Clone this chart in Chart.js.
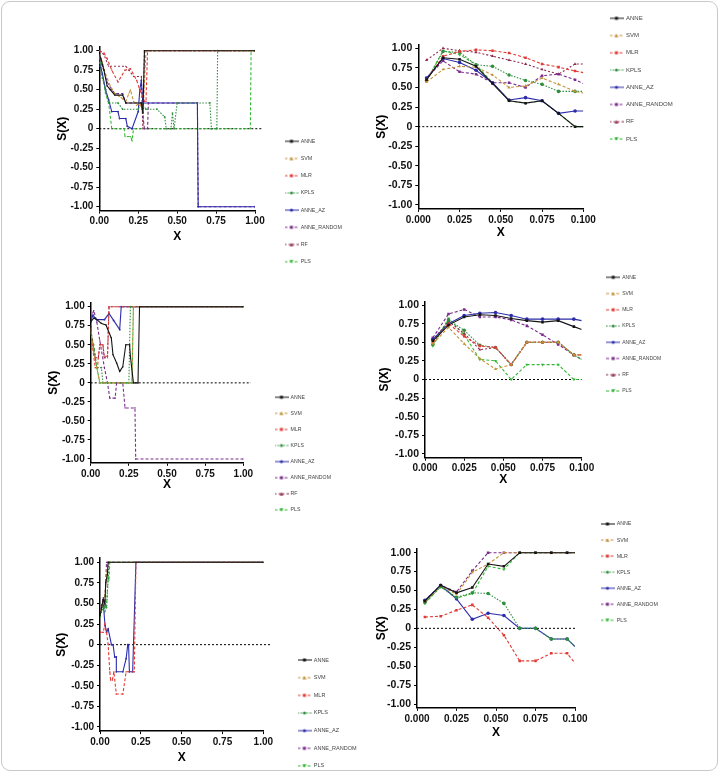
<!DOCTYPE html>
<html><head><meta charset="utf-8">
<script src="https://cdn.jsdelivr.net/npm/chart.js@4.4.1/dist/chart.umd.min.js"></script>
<style>
html,body{margin:0;padding:0;background:#fff;}
#wrap{position:relative;width:720px;height:773px;overflow:hidden;background:#fff;}
#frame{position:absolute;left:1px;top:1px;width:717px;height:770px;border:1px solid #c9c9c9;border-radius:9px;box-sizing:border-box;}
canvas{position:absolute;}
</style></head><body><div id="wrap"><div id="frame"></div></div>
<script>
// ---------- axis ticks ----------
const LEFT_X_TICKS = [0, 0.25, 0.5, 0.75, 1];
const LEFT_X_LABELS = ['0.00', '0.25', '0.50', '0.75', '1.00'];
const RIGHT_X_TICKS = [0, 0.025, 0.05, 0.075, 0.1];
const RIGHT_X_LABELS = ['0.000', '0.025', '0.050', '0.075', '0.100'];
const Y_TICKS = [-1, -0.75, -0.5, -0.25, 0, 0.25, 0.5, 0.75, 1];
const Y_LABELS = ['-1.00', '-0.75', '-0.50', '-0.25', '0', '0.25', '0.50', '0.75', '1.00'];

// ---------- right panels: x positions ----------
const X_RIGHT = [0.005, 0.015, 0.025, 0.035, 0.045, 0.055, 0.065, 0.075, 0.085, 0.095, 0.1];

// top-right
const TR_ANNE = [0.60, 0.88, 0.86, 0.77, 0.55, 0.33, 0.30, 0.33, 0.17, 0.00, 0.00];
const TR_SVM = [0.57, 0.73, 0.77, 0.76, 0.66, 0.50, 0.52, 0.62, 0.54, 0.45, 0.43];
const TR_MLR = [0.60, 0.90, 0.96, 0.98, 0.97, 0.94, 0.88, 0.80, 0.76, 0.71, 0.69];
const TR_KPLS = [0.59, 0.96, 0.95, 0.79, 0.77, 0.66, 0.59, 0.54, 0.45, 0.45, 0.45];
const TR_ANNE_AZ = [0.62, 0.87, 0.82, 0.72, 0.56, 0.34, 0.37, 0.33, 0.17, 0.20, 0.20];
const TR_ANNE_RANDOM = [0.62, 0.84, 0.70, 0.67, 0.56, 0.56, 0.50, 0.65, 0.67, 0.60, 0.55];
const TR_RF = [0.85, 1.00, 0.97, 0.95, 0.90, 0.85, 0.80, 0.73, 0.67, 0.80, 0.80];
const TR_PLS = [0.58, 0.97, 0.92, 0.79, 0.56, 0.33, 0.30, 0.33, 0.17, 0.00, 0.00];

// middle-right
const MR_ANNE = [0.52, 0.73, 0.84, 0.87, 0.86, 0.82, 0.79, 0.77, 0.79, 0.71, 0.67];
const MR_SVM = [0.48, 0.70, 0.48, 0.28, 0.14, 0.20, 0.50, 0.50, 0.50, 0.33, 0.33];
const MR_MLR = [0.50, 0.75, 0.58, 0.45, 0.43, 0.20, 0.50, 0.50, 0.50, 0.33, 0.33];
const MR_KPLS = [0.47, 0.80, 0.66, 0.46, 0.43, 0.20, 0.50, 0.50, 0.50, 0.33, 0.27];
const MR_ANNE_AZ = [0.54, 0.75, 0.86, 0.89, 0.90, 0.86, 0.81, 0.81, 0.81, 0.81, 0.79];
const MR_ANNE_RANDOM = [0.56, 0.88, 0.94, 0.84, 0.84, 0.80, 0.72, 0.60, 0.47, 0.33, 0.27];
const MR_RF = [0.53, 0.78, 0.62, 0.40, 0.43, 0.20, 0.50, 0.50, 0.50, 0.33, 0.33];
const MR_PLS = [0.45, 0.82, 0.60, 0.27, 0.25, 0.00, 0.20, 0.20, 0.20, 0.00, 0.00];

// bottom-right
const BR_ANNE = [0.36, 0.57, 0.47, 0.54, 0.85, 0.82, 1, 1, 1, 1, 1];
const BR_SVM = [0.35, 0.56, 0.45, 0.74, 0.85, 1, 1, 1, 1, 1, 1];
const BR_MLR = [0.15, 0.16, 0.24, 0.31, 0.14, -0.09, -0.43, -0.43, -0.33, -0.33, -0.46];
const BR_KPLS = [0.34, 0.55, 0.41, 0.47, 0.46, 0.33, 0.00, 0.00, -0.14, -0.14, -0.24];
const BR_ANNE_AZ = [0.37, 0.57, 0.39, 0.12, 0.20, 0.17, 0.00, 0.00, -0.14, -0.14, -0.24];
const BR_ANNE_RANDOM = [0.37, 0.57, 0.48, 0.76, 1, 1, 1, 1, 1, 1, 1];
const BR_PLS = [0.33, 0.55, 0.40, 0.46, 0.82, 0.78, 1, 1, 1, 1, 1];

// ---------- left panels: [x, S(X)] pairs ----------
// top-left
const TL_ANNE = [[0,0.95],[0.01,0.9],[0.03,0.75],[0.05,0.55],[0.07,0.5],[0.1,0.43],[0.15,0.43],[0.17,0.33],[0.27,0.33],[0.28,0.2],[0.29,1],[1,1]];
const TL_SVM = [[0,0.95],[0.02,0.85],[0.04,0.7],[0.07,0.55],[0.1,0.45],[0.14,0.4],[0.17,0.35],[0.19,0.45],[0.2,0.5],[0.22,0.35],[0.24,0.3],[0.26,0.33],[0.28,0.2],[0.3,1],[1,1]];
const TL_MLR = [[0,1],[0.03,0.97],[0.05,0.9],[0.08,0.75],[0.12,0.6],[0.165,0.75],[0.2,0.77],[0.24,0.62],[0.26,0.5],[0.29,0.35],[0.3,0.35],[0.31,1],[1,1]];
const TL_KPLS = [[0,0.85],[0.02,0.65],[0.04,0.5],[0.06,0.33],[0.12,0.33],[0.15,0.25],[0.25,0.25],[0.27,0.33],[0.3,0.25],[0.37,0.25],[0.42,0.15],[0.43,0],[0.46,0],[0.47,0.2],[0.48,0],[0.5,0.33],[0.71,0.33],[0.72,0],[0.755,0],[0.76,1],[1,1]];
const TL_ANNE_AZ = [[0,0.85],[0.02,0.7],[0.04,0.5],[0.06,0.37],[0.08,0.22],[0.12,0.22],[0.13,0.13],[0.17,0.13],[0.18,0.03],[0.21,0],[0.25,0.22],[0.26,0.5],[0.27,0.62],[0.28,0.33],[0.63,0.33],[0.635,-1],[1,-1]];
const TL_ANNE_RANDOM = [[0,0.9],[0.02,0.8],[0.05,0.6],[0.08,0.5],[0.1,0.45],[0.15,0.45],[0.17,0.33],[0.27,0.33],[0.29,0],[0.31,0],[0.315,0.33],[0.63,0.33],[0.635,-1],[1,-1]];
const TL_RF = [[0,1],[0.03,0.95],[0.06,0.8],[0.17,0.8],[0.19,0.75],[0.22,0.67],[0.27,0.67],[0.28,0],[0.29,1],[1,1]];
const TL_PLS = [[0,0.92],[0.02,0.7],[0.04,0.45],[0.06,0.33],[0.08,0],[0.16,0],[0.165,-0.1],[0.2,-0.1],[0.21,-0.15],[0.22,0],[0.97,0],[0.975,1],[1,1]];

// middle-left
const ML_ANNE = [[0,0.8],[0.02,0.85],[0.04,0.83],[0.07,0.78],[0.1,0.76],[0.135,0.59],[0.146,0.37],[0.17,0.26],[0.19,0.15],[0.21,0.21],[0.23,0.5],[0.255,0.5],[0.26,0.35],[0.28,0],[0.31,0],[0.32,1],[1,1]];
const ML_SVM = [[0,0.68],[0.02,0.4],[0.04,0.2],[0.06,0],[0.27,0],[0.28,1],[1,1]];
const ML_MLR = [[0,0.72],[0.01,0.5],[0.03,0.2],[0.045,0.2],[0.05,0.33],[0.06,0.5],[0.08,0.5],[0.087,0.35],[0.11,0.35],[0.12,1],[1,1]];
const ML_KPLS = [[0,0.7],[0.02,0.45],[0.04,0.2],[0.07,0.2],[0.08,0],[0.25,0],[0.26,1],[1,1]];
const ML_ANNE_AZ = [[0,0.8],[0.015,0.89],[0.03,0.85],[0.04,0.83],[0.09,0.83],[0.12,0.91],[0.15,0.82],[0.19,0.7],[0.2,1],[1,1]];
const ML_ANNE_RANDOM = [[0,0.85],[0.02,0.95],[0.04,0.8],[0.06,0.55],[0.09,0.2],[0.11,0],[0.125,-0.2],[0.16,-0.2],[0.17,0],[0.21,0],[0.225,-0.33],[0.29,-0.33],[0.295,-1],[1,-1]];
const ML_RF = [[0,0.75],[0.01,0.55],[0.03,0.33],[0.05,0.33],[0.06,0.5],[0.08,0.5],[0.09,0.33],[0.11,0.33],[0.12,1],[1,1]];
const ML_PLS = [[0,0.65],[0.02,0.5],[0.04,0.2],[0.06,0],[0.27,0],[0.28,1],[1,1]];

// bottom-left
const BL_ANNE = [[0,0.35],[0.01,0.45],[0.02,0.55],[0.03,0.5],[0.035,0.75],[0.045,0.85],[0.05,1],[1,1]];
const BL_SVM = [[0,0.4],[0.02,0.5],[0.03,0.6],[0.04,0.85],[0.05,1],[1,1]];
const BL_MLR = [[0,0.15],[0.02,0.15],[0.03,0.25],[0.04,0.15],[0.05,0],[0.06,-0.33],[0.065,-0.43],[0.076,-0.43],[0.085,-0.33],[0.1,-0.6],[0.14,-0.6],[0.16,-0.33],[0.21,-0.33],[0.22,1],[1,1]];
const BL_KPLS = [[0,0.35],[0.02,0.45],[0.03,0.47],[0.04,0.45],[0.05,0.8],[0.055,1],[1,1]];
const BL_ANNE_AZ = [[0,0.4],[0.02,0.5],[0.031,0.23],[0.04,0.15],[0.05,0.19],[0.07,0],[0.08,0],[0.09,-0.15],[0.1,-0.15],[0.1,-0.33],[0.14,-0.33],[0.16,-0.17],[0.17,0],[0.175,0],[0.18,-0.33],[0.2,-0.33],[0.22,1],[1,1]];
const BL_ANNE_RANDOM = [[0,0.4],[0.02,0.57],[0.03,0.48],[0.035,0.75],[0.04,1],[1,1]];
const BL_PLS = [[0,0.33],[0.02,0.55],[0.03,0.4],[0.04,0.47],[0.05,0.82],[0.055,0.78],[0.06,1],[1,1]];

// ---------- series styles ----------
const STYLE = {
  ANNE:        {color:'#151515', dash:[],        point:'rect'},
  SVM:         {color:'#c4923a', dash:[3,2],     point:'triangle'},
  MLR:         {color:'#e23b34', dash:[3,2],     point:'rect'},
  KPLS:        {color:'#2f8f3f', dash:[1.5,1.5], point:'circle'},
  ANNE_AZ:     {color:'#2c2caa', dash:[],        point:'circle'},
  ANNE_RANDOM: {color:'#7b2b8b', dash:[3,2],     point:'rect'},
  RF:          {color:'#8e2a50', dash:[2,2],     point:'triangle'},
  PLS:         {color:'#35b935', dash:[3,2],     point:'triangle', down:true}
};

const PANELS = [
  {cx:10, cy:30, cw:340, ch:245, plot:{l:99.3,t:46.8,r:255,b:210.6}, side:'left', ytp:4.5, xtp:2.7,
   leg:{x:285,y:141.3,sp:17.2,f:5.3},
   series:{ANNE:TL_ANNE,SVM:TL_SVM,MLR:TL_MLR,KPLS:TL_KPLS,ANNE_AZ:TL_ANNE_AZ,ANNE_RANDOM:TL_ANNE_RANDOM,RF:TL_RF,PLS:TL_PLS}},
  {cx:360, cy:5, cw:350, ch:250, plot:{l:418.3,t:44.4,r:583.3,b:208.9}, side:'right', ytp:4.2, xtp:4.8,
   leg:{x:610,y:18.3,sp:17.24,f:6},
   series:{ANNE:TR_ANNE,SVM:TR_SVM,MLR:TR_MLR,KPLS:TR_KPLS,ANNE_AZ:TR_ANNE_AZ,ANNE_RANDOM:TR_ANNE_RANDOM,RF:TR_RF,PLS:TR_PLS}},
  {cx:10, cy:285, cw:340, ch:240, plot:{l:90.7,t:302.9,r:243.3,b:462.8}, side:'left', ytp:3.4, xtp:6.8,
   leg:{x:275,y:397.2,sp:16.1,f:5.2},
   series:{ANNE:ML_ANNE,SVM:ML_SVM,MLR:ML_MLR,KPLS:ML_KPLS,ANNE_AZ:ML_ANNE_AZ,ANNE_RANDOM:ML_ANNE_RANDOM,RF:ML_RF,PLS:ML_PLS}},
  {cx:360, cy:262, cw:350, ch:240, plot:{l:425,t:301.3,r:581.7,b:457.7}, side:'right', ytp:0.8, xtp:6.5,
   leg:{x:606.7,y:277.3,sp:16.24,f:5},
   series:{ANNE:MR_ANNE,SVM:MR_SVM,MLR:MR_MLR,KPLS:MR_KPLS,ANNE_AZ:MR_ANNE_AZ,ANNE_RANDOM:MR_ANNE_RANDOM,RF:MR_RF,PLS:MR_PLS}},
  {cx:10, cy:535, cw:355, ch:235, plot:{l:100,t:558.2,r:263.3,b:731.1}, side:'left', ytp:2.5, xtp:1.8,
   leg:{x:298,y:660,sp:17.66,f:5.5},
   series:{ANNE:BL_ANNE,SVM:BL_SVM,MLR:BL_MLR,KPLS:BL_KPLS,ANNE_AZ:BL_ANNE_AZ,ANNE_RANDOM:BL_ANNE_RANDOM,PLS:BL_PLS}},
  {cx:360, cy:510, cw:350, ch:240, plot:{l:417,t:548.9,r:575,b:707.8}, side:'right', ytp:5.5, xtp:3.8,
   leg:{x:601,y:524,sp:16.05,f:5.3},
   series:{ANNE:BR_ANNE,SVM:BR_SVM,MLR:BR_MLR,KPLS:BR_KPLS,ANNE_AZ:BR_ANNE_AZ,ANNE_RANDOM:BR_ANNE_RANDOM,PLS:BR_PLS}}
];

const FONT = '"Liberation Sans", Arial, Helvetica, sans-serif';
const YW = 48, XH = 36;

function glyph(st) {
  const c = document.createElement('canvas');
  c.width = 14; c.height = 6;
  const g = c.getContext('2d');
  g.strokeStyle = st.color; g.lineWidth = 1; g.setLineDash(st.dash);
  g.beginPath(); g.moveTo(0, 3); g.lineTo(14, 3); g.stroke();
  g.setLineDash([]); g.fillStyle = st.color;
  g.beginPath();
  if (st.point === 'rect') g.rect(5.5, 1.5, 3, 3);
  else if (st.point === 'circle') g.arc(7, 3, 1.6, 0, Math.PI * 2);
  else if (st.down) { g.moveTo(5, 1.3); g.lineTo(9, 1.3); g.lineTo(7, 4.8); }
  else { g.moveTo(5, 4.7); g.lineTo(9, 4.7); g.lineTo(7, 1.2); }
  g.fill();
  return c;
}
const GLYPHS = {};
Object.keys(STYLE).forEach(k => GLYPHS[k] = glyph(STYLE[k]));

const wrap = document.getElementById('wrap');

PANELS.forEach(p => {
  const canvas = document.createElement('canvas');
  canvas.width = p.cw; canvas.height = p.ch;
  canvas.style.left = p.cx + 'px'; canvas.style.top = p.cy + 'px';
  wrap.appendChild(canvas);
  const isLeft = p.side === 'left';
  const pad = {
    left: p.plot.l - p.cx - YW,
    top: p.plot.t - p.cy,
    right: p.cx + p.cw - p.plot.r,
    bottom: p.cy + p.ch - p.plot.b - XH
  };
  const datasets = Object.keys(p.series).map(name => {
    const st = STYLE[name];
    const vals = p.series[name];
    const data = isLeft ? vals.map(v => ({x: v[0], y: v[1]})) : X_RIGHT.map((x, i) => ({x: x, y: vals[i]}));
    const n = data.length;
    return {
      label: name, data: data, showLine: true,
      borderColor: st.color, backgroundColor: st.color,
      borderWidth: isLeft ? 1.1 : 1.1, borderDash: st.dash,
      pointStyle: st.point, pointRotation: st.down ? 180 : 0,
      pointRadius: isLeft ? 0.9 : (ctx => ctx.dataIndex === n - 1 ? 0 : 1.8),
      pointBorderWidth: 0, tension: 0
    };
  });
  datasets.push({
    label: 'zero', data: [{x: 0, y: 0}, {x: isLeft ? 1.05 : 0.1, y: 0}], showLine: true,
    borderColor: '#000', borderWidth: 1, borderDash: [2, 2], pointRadius: 0, clip: false
  });
  const xt = isLeft ? LEFT_X_TICKS : RIGHT_X_TICKS;
  const xl = isLeft ? LEFT_X_LABELS : RIGHT_X_LABELS;
  const lf = p.leg.f;
  const lpad = p.leg.sp - lf;
  const mover = {
    id: 'legendMover',
    afterUpdate(chart) {
      const lg = chart.legend;
      const left = p.leg.x - p.cx - lpad;
      const top = p.leg.y - p.cy - lpad - lf / 2;
      lg.left = left; lg.top = top; lg.width = 140; lg.height = 400;
      lg.right = left + 140; lg.bottom = top + 400;
    }
  };
  new Chart(canvas, {
    type: 'scatter',
    data: {datasets},
    options: {
      responsive: false, animation: false, devicePixelRatio: 1,
      layout: {padding: pad},
      events: [],
      plugins: {
        tooltip: {enabled: false},
        legend: {
          position: 'chartArea', align: 'start',
          labels: {
            usePointStyle: true, pointStyleWidth: 13, padding: lpad,
            color: '#444', font: {family: FONT, size: lf},
            generateLabels: chart => Chart.defaults.plugins.legend.labels.generateLabels(chart)
              .filter(it => it.text !== 'zero')
              .map(it => { it.pointStyle = GLYPHS[it.text]; it.rotation = 0; return it; })
          }
        }
      },
      scales: {
        x: {
          type: 'linear', min: 0, max: isLeft ? 1 : 0.1,
          afterBuildTicks: s => { s.ticks = xt.map(v => ({value: v})); },
          afterFit: s => { s.height = XH; },
          ticks: {autoSkip: false, maxRotation: 0, padding: 2, color: '#111',
                  font: {family: FONT, size: 10, weight: 'bold'}, callback: (v, i) => xl[i]},
          grid: {drawOnChartArea: false, drawTicks: true, tickLength: 3, color: '#000', lineWidth: 1},
          border: {display: true, color: '#000', width: 1.5},
          title: {display: true, text: 'X', color: '#000', font: {family: FONT, size: 12, weight: 'bold'},
                  padding: {top: 0, bottom: p.xtp}}
        },
        y: {
          type: 'linear', min: -1.05, max: 1.05,
          afterBuildTicks: s => { s.ticks = Y_TICKS.map(v => ({value: v})); },
          afterFit: s => { s.width = YW; },
          ticks: {autoSkip: false, padding: 3, color: '#111',
                  font: {family: FONT, size: isLeft ? 10 : 10.5, weight: 'bold'}, callback: (v, i) => Y_LABELS[i]},
          grid: {drawOnChartArea: false, drawTicks: true, tickLength: 3, color: '#000', lineWidth: 1},
          border: {display: true, color: '#000', width: 1.5},
          title: {display: true, text: 'S(X)', color: '#000', font: {family: FONT, size: 12, weight: 'bold'},
                  padding: {top: p.ytp, bottom: 0}}
        }
      }
    },
    plugins: [mover]
  });
});
</script></body></html>
